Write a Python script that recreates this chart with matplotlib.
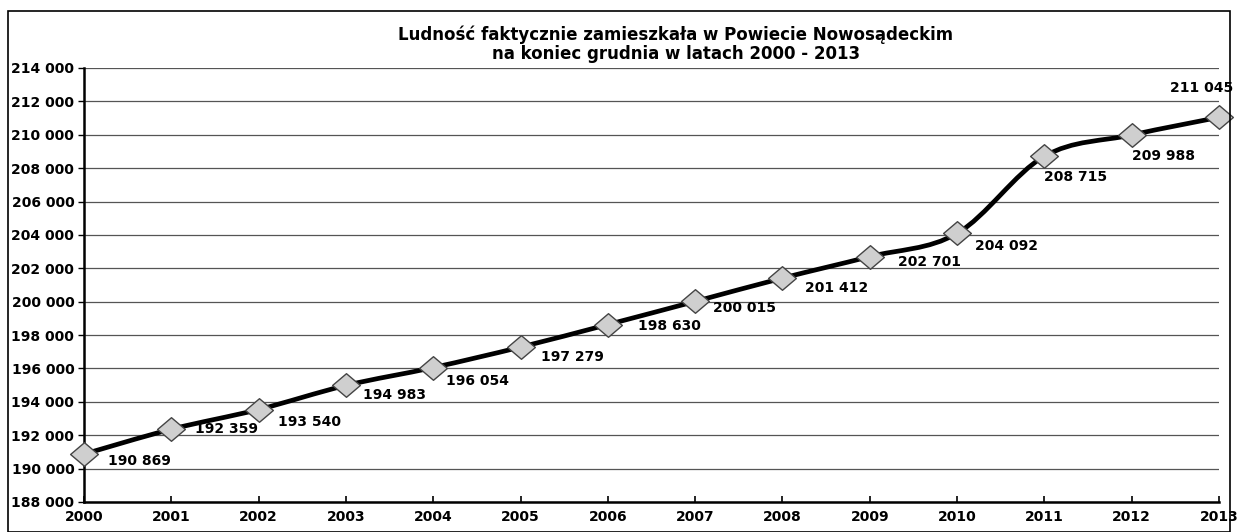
import matplotlib.pyplot as plt
from matplotlib.path import Path
from matplotlib.patches import PathPatch, Rectangle
from matplotlib.ticker import FuncFormatter, MultipleLocator

years = [2000, 2001, 2002, 2003, 2004, 2005, 2006,
         2007, 2008, 2009, 2010, 2011, 2012, 2013]
population = [190869, 192359, 193540, 194983, 196054, 197279, 198630,
              200015, 201412, 202701, 204092, 208715, 209988, 211045]

title = "Ludność faktycznie zamieszkała w Powiecie Nowosądeckim\nna koniec grudnia w latach 2000 - 2013"

# label offsets in points (dx, dy) from each marker
label_offsets = [(17, -5), (17, 0), (14, -9), (12, -7), (9, -10), (15, -7), (22, -1),
                 (13, -5), (16, -7), (20, -4), (13, -9), (0, -15), (0, -15), (-35, 21)]


def fmt(v, pos=None):
    return f"{v:,.0f}".replace(",", " ")


plt.rcParams["font.family"] = ["DejaVu Sans"]

fig = plt.figure(figsize=(12.37, 5.32), dpi=100)
ax = fig.add_axes([84 / 1237, 30 / 532, 1135 / 1237, 434 / 532])

# smooth line (Excel style) as bezier segments through the points
pts = list(zip(years, population))
verts = [pts[0]]
codes = [Path.MOVETO]
for i in range(len(pts) - 1):
    p0 = pts[i - 1] if i > 0 else pts[i]
    p1 = pts[i]
    p2 = pts[i + 1]
    p3 = pts[i + 2] if i + 2 < len(pts) else pts[i + 1]
    c1 = (p1[0] + (p2[0] - p0[0]) / 6, p1[1] + (p2[1] - p0[1]) / 6)
    c2 = (p2[0] - (p3[0] - p1[0]) / 6, p2[1] - (p3[1] - p1[1]) / 6)
    verts += [c1, c2, p2]
    codes += [Path.CURVE4] * 3
ax.add_patch(PathPatch(Path(verts, codes), facecolor="none", edgecolor="black",
                       linewidth=3.4, zorder=3, clip_on=False))

diamond = Path([(-1, 0), (0, 0.85), (1, 0), (0, -0.85), (-1, 0)],
               [Path.MOVETO, Path.LINETO, Path.LINETO, Path.LINETO, Path.CLOSEPOLY])
ax.plot(years, population, linestyle="none", marker=diamond, markersize=20,
        markerfacecolor="#cfcfcf", markeredgecolor="#444444", markeredgewidth=1,
        zorder=4, clip_on=False)

for x, y, (dx, dy) in zip(years, population, label_offsets):
    ax.annotate(fmt(y), (x, y), xytext=(dx, dy), textcoords="offset points",
                ha="left", va="center", fontsize=10, fontweight="bold",
                zorder=5, annotation_clip=False)

ax.set_xlim(2000, 2013)
ax.set_ylim(188000, 214000)
ax.xaxis.set_major_locator(MultipleLocator(1))
ax.yaxis.set_major_locator(MultipleLocator(2000))
ax.yaxis.set_major_formatter(FuncFormatter(fmt))

ax.grid(True, axis="y", color="#555555", linewidth=0.9)
ax.set_axisbelow(True)
for s in ["top", "right"]:
    ax.spines[s].set_visible(False)
ax.spines["left"].set_linewidth(1.8)
ax.spines["bottom"].set_linewidth(1.8)

ax.tick_params(axis="y", direction="out", length=4, width=1, pad=3, labelsize=10)
ax.tick_params(axis="x", direction="in", length=4, width=1.2, pad=6, labelsize=10)
for lab in ax.get_xticklabels() + ax.get_yticklabels():
    lab.set_fontweight("bold")

fig.text(676 / 1237, 1 - 44 / 532, title, ha="center", va="center",
         fontsize=12, fontweight="bold", linespacing=1.05)

fig.patches.append(Rectangle((8 / 1237, 0), 1222 / 1237, 1 - 11 / 532,
                             transform=fig.transFigure, fill=False,
                             edgecolor="black", linewidth=1.2))

fig.savefig("out.png", dpi=100)
